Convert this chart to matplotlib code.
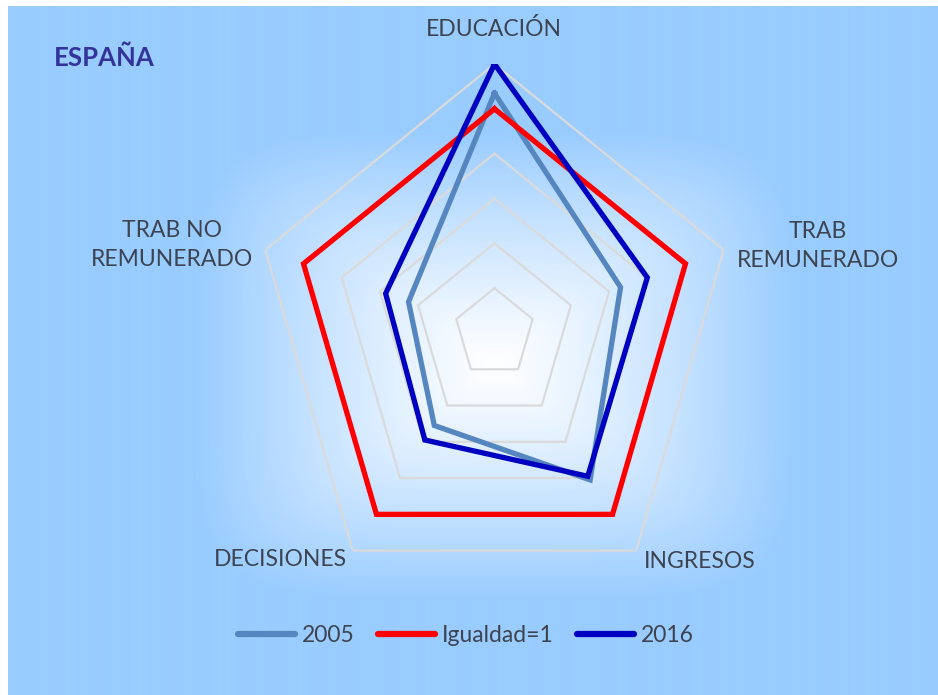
import numpy as np
import matplotlib
matplotlib.use('Agg')
import matplotlib.pyplot as plt
from matplotlib.lines import Line2D

plt.rcParams['font.family'] = ['Lato', 'DejaVu Sans']

# ---- data ----
categories = ['EDUCACIÓN', 'TRAB\nREMUNERADO', 'INGRESOS', 'DECISIONES', 'TRAB NO\nREMUNERADO']
series_names = ['2005', 'Igualdad=1', '2016']
values_2005 = [1.07, 0.66, 0.81, 0.51, 0.45]
values_igualdad = [1.0, 1.0, 1.0, 1.0, 1.0]
values_2016 = [1.20, 0.80, 0.79, 0.59, 0.57]
grid_levels = [0.2, 0.4, 0.6, 0.8, 1.0, 1.2]
title = 'ESPAÑA'

W, H = 938, 695
fig = plt.figure(figsize=(W / 100, H / 100), dpi=100, facecolor='white')

# ---- background with soft path gradient ----
bg = fig.add_axes([8 / W, 0, 1 - 8 / W, (H - 6) / H])
bg.set_axis_off()
xs = np.arange(W - 8) + 8
ys = np.arange(H - 6) + 6
X, Y = np.meshgrid(xs, ys)
p = 5.0
t = ((np.abs(X - 494) / 300) ** p + (np.abs(Y - 365) / 235) ** p) ** (1 / p)
t = np.clip(t, 0, 1) ** 1.15
base = np.array([153, 204, 255]) / 255.0
img = (1 - t[..., None]) * 1.0 + t[..., None] * base
bg.imshow(img, aspect='auto', interpolation='bilinear')

# ---- radar axes ----
cx, cy = 494.5, 333
rx, ry = 241, 269
ax = fig.add_axes([(cx - rx) / W, (H - (cy + ry)) / H, 2 * rx / W, 2 * ry / H],
                  projection='polar')
ax.set_aspect('auto')
ax.patch.set_alpha(0)
ax.set_theta_offset(np.pi / 2)
ax.set_theta_direction(-1)
ax.set_ylim(0, max(grid_levels))
ax.grid(False)
ax.set_xticks([])
ax.set_yticks([])
ax.spines['polar'].set_visible(False)

n = len(categories)
theta = np.arange(n) * 2 * np.pi / n
theta_c = np.append(theta, theta[0])

for lv in grid_levels:
    ax.plot(theta_c, [lv] * (n + 1), color='#dadada', lw=1.6, zorder=1,
            solid_joinstyle='miter')

def closed(v):
    return list(v) + [v[0]]

colors = ['#5686bf', '#ff0000', '#0000c0']
for name, vals, c in zip(series_names, [values_2005, values_igualdad, values_2016], colors):
    ax.plot(theta_c, closed(vals), color=c, lw=3.8, zorder=3,
            solid_joinstyle='miter', label=name)

# ---- category labels ----
label_pos = [(494, 29), (818, 246), (700, 561), (280, 560), (172, 245)]
for lab, (px, py) in zip(categories, label_pos):
    fig.text(px / W, 1 - py / H, lab, ha='center', va='center', fontsize=16.5,
             color='#3d4450', linespacing=1.45)

fig.text(54 / W, 1 - 58 / H, title, ha='left', va='center', fontsize=18.5,
         fontweight='bold', color='#333399')

# ---- legend ----
handles = [Line2D([0], [0], color=c, lw=4.5, solid_capstyle='round') for c in colors]
fig.legend(handles, series_names, loc='center', bbox_to_anchor=(466 / W, 1 - 636 / H),
           ncol=3, frameon=False, fontsize=16.5, labelcolor='#3d4450',
           handlelength=2.5, handletextpad=0.3, columnspacing=1.0)

fig.savefig('out.png', dpi=100, facecolor='white')
